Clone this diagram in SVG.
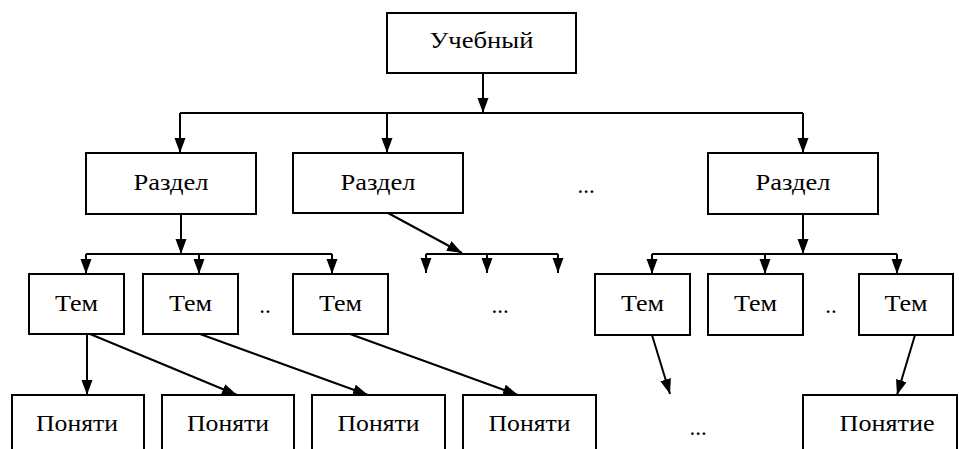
<svg xmlns="http://www.w3.org/2000/svg" width="959" height="449" viewBox="0 0 959 449">
  <style>
    .box { fill: #ffffff; stroke: #000000; stroke-width: 2; }
    .lbl { font-family: "Liberation Serif", "DejaVu Serif", serif; font-size: 23px; fill: #000000; text-anchor: middle; }
    .ln { fill: none; stroke: #000000; stroke-width: 2; }
    .arr { fill: none; stroke: #000000; stroke-width: 2; marker-end: url(#head); }
  </style>
  <defs>
    <marker id="head" markerUnits="userSpaceOnUse" markerWidth="16" markerHeight="12" refX="15" refY="5.5" orient="auto">
      <path d="M0,0 L15,5.5 L0,11 Z" fill="#000000"/>
    </marker>
  </defs>
  <rect width="959" height="449" fill="#ffffff"/>

  <!-- connectors -->
  <g id="connectors">
    <line class="arr" x1="483" y1="73" x2="483" y2="113"/>
    <line class="ln" x1="180" y1="113" x2="803" y2="113"/>
    <line class="arr" x1="180" y1="113" x2="180" y2="153"/>
    <line class="arr" x1="387" y1="113" x2="387" y2="153"/>
    <line class="arr" x1="803" y1="113" x2="803" y2="153"/>

    <line class="arr" x1="181" y1="214" x2="181" y2="254"/>
    <line class="ln" x1="86" y1="254" x2="332" y2="254"/>
    <line class="arr" x1="86" y1="254" x2="86" y2="274"/>
    <line class="arr" x1="199" y1="254" x2="199" y2="274"/>
    <line class="arr" x1="332" y1="254" x2="332" y2="274"/>

    <line class="arr" x1="388" y1="213" x2="462" y2="253"/>
    <line class="ln" x1="426" y1="254" x2="558" y2="254"/>
    <line class="arr" x1="426" y1="254" x2="426" y2="273"/>
    <line class="arr" x1="487" y1="254" x2="487" y2="273"/>
    <line class="arr" x1="558" y1="254" x2="558" y2="273"/>

    <line class="arr" x1="803" y1="214" x2="803" y2="254"/>
    <line class="ln" x1="652" y1="254" x2="897" y2="254"/>
    <line class="arr" x1="652" y1="254" x2="652" y2="274"/>
    <line class="arr" x1="765" y1="254" x2="765" y2="274"/>
    <line class="arr" x1="897" y1="254" x2="897" y2="274"/>

    <line class="arr" x1="87" y1="334" x2="87" y2="395"/>
    <line class="arr" x1="90" y1="334" x2="237" y2="395"/>
    <line class="arr" x1="200" y1="334" x2="368" y2="395"/>
    <line class="arr" x1="350" y1="334" x2="518" y2="395"/>
    <line class="arr" x1="652" y1="335" x2="670" y2="394"/>
    <line class="arr" x1="915" y1="335" x2="897" y2="395"/>
  </g>

  <!-- root -->
  <g id="root">
    <rect class="box" x="387" y="13" width="189" height="60"/>
    <text class="lbl" x="481.5" y="48" textLength="104" lengthAdjust="spacingAndGlyphs">Учебный</text>
  </g>

  <!-- sections -->
  <g id="section-1">
    <rect class="box" x="86" y="153" width="170" height="61"/>
    <text class="lbl" x="171" y="190" textLength="75" lengthAdjust="spacingAndGlyphs">Раздел</text>
  </g>
  <g id="section-2">
    <rect class="box" x="293" y="153" width="170" height="60"/>
    <text class="lbl" x="378" y="190" textLength="75" lengthAdjust="spacingAndGlyphs">Раздел</text>
  </g>
  <g id="section-3">
    <rect class="box" x="708" y="153" width="170" height="61"/>
    <text class="lbl" x="793" y="190" textLength="75" lengthAdjust="spacingAndGlyphs">Раздел</text>
  </g>
  <text class="lbl" x="586" y="193">...</text>

  <!-- topics -->
  <g id="topic-1">
    <rect class="box" x="29" y="274" width="95" height="60"/>
    <text class="lbl" x="76.5" y="311" textLength="43" lengthAdjust="spacingAndGlyphs">Тем</text>
  </g>
  <g id="topic-2">
    <rect class="box" x="143" y="274" width="95" height="60"/>
    <text class="lbl" x="190.5" y="311" textLength="43" lengthAdjust="spacingAndGlyphs">Тем</text>
  </g>
  <g id="topic-3">
    <rect class="box" x="293" y="274" width="95" height="60"/>
    <text class="lbl" x="340.5" y="311" textLength="43" lengthAdjust="spacingAndGlyphs">Тем</text>
  </g>
  <g id="topic-4">
    <rect class="box" x="595" y="274" width="95" height="61"/>
    <text class="lbl" x="642.5" y="311" textLength="43" lengthAdjust="spacingAndGlyphs">Тем</text>
  </g>
  <g id="topic-5">
    <rect class="box" x="708" y="274" width="95" height="61"/>
    <text class="lbl" x="755.5" y="311" textLength="43" lengthAdjust="spacingAndGlyphs">Тем</text>
  </g>
  <g id="topic-6">
    <rect class="box" x="859" y="274" width="94" height="61"/>
    <text class="lbl" x="906" y="311" textLength="43" lengthAdjust="spacingAndGlyphs">Тем</text>
  </g>
  <text class="lbl" x="265" y="313">..</text>
  <text class="lbl" x="500" y="313">...</text>
  <text class="lbl" x="831" y="313">..</text>

  <!-- concepts -->
  <g id="concept-1">
    <rect class="box" x="12" y="395" width="132" height="70"/>
    <text class="lbl" x="77" y="431" textLength="82" lengthAdjust="spacingAndGlyphs">Поняти</text>
  </g>
  <g id="concept-2">
    <rect class="box" x="162" y="395" width="132" height="70"/>
    <text class="lbl" x="228" y="431" textLength="82" lengthAdjust="spacingAndGlyphs">Поняти</text>
  </g>
  <g id="concept-3">
    <rect class="box" x="312" y="395" width="133" height="70"/>
    <text class="lbl" x="378.5" y="431" textLength="82" lengthAdjust="spacingAndGlyphs">Поняти</text>
  </g>
  <g id="concept-4">
    <rect class="box" x="463" y="395" width="133" height="70"/>
    <text class="lbl" x="529.5" y="431" textLength="82" lengthAdjust="spacingAndGlyphs">Поняти</text>
  </g>
  <text class="lbl" x="698" y="435">...</text>
  <g id="concept-5">
    <rect class="box" x="803" y="395" width="154" height="70"/>
    <text class="lbl" x="887" y="431" textLength="95" lengthAdjust="spacingAndGlyphs">Понятие</text>
  </g>
</svg>
